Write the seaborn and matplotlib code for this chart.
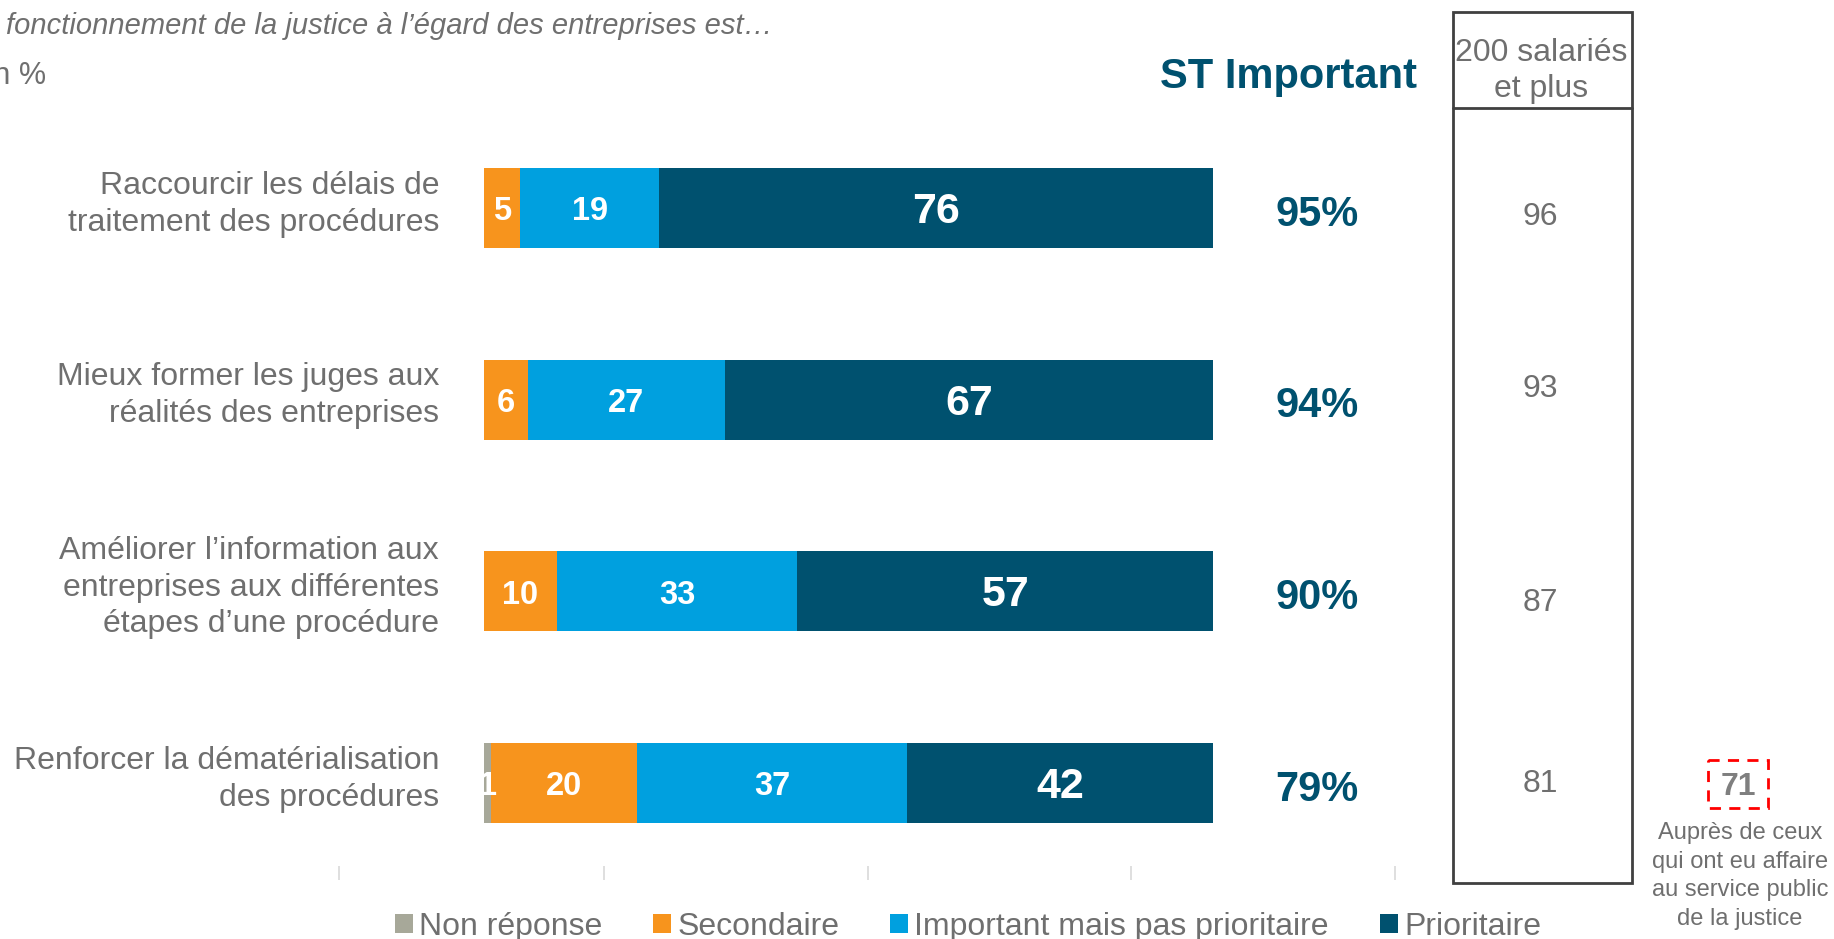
import numpy as np
import pandas as pd
import matplotlib
matplotlib.use("Agg")
import matplotlib.pyplot as plt
import seaborn as sns
from matplotlib.transforms import Affine2D
from matplotlib.patches import Rectangle, Patch
from matplotlib.lines import Line2D

# ---------------- data ----------------
categories = [
    "Raccourcir les délais de\ntraitement des procédures",
    "Mieux former les juges aux\nréalités des entreprises",
    "Améliorer l’information aux\nentreprises aux différentes\nétapes d’une procédure",
    "Renforcer la dématérialisation\ndes procédures",
]
non_reponse = [0, 0, 0, 1]
secondaire = [5, 6, 10, 20]
important = [19, 27, 33, 37]
prioritaire = [76, 67, 57, 42]
st_important = [95, 94, 90, 79]
salaries_200 = [96, 93, 87, 81]
series_names = ["Non réponse", "Secondaire", "Important mais pas prioritaire", "Prioritaire"]
annot_value = 71
annot_text = "Auprès de ceux\nqui ont eu affaire\nau service public\nde la justice"
subtitle = "fonctionnement de la justice à l’égard des entreprises est…"

colors = ["#a7a899", "#f7941d", "#00a0df", "#00516f"]
gray = "#6f6f6f"
teal = "#00516f"

sns.set_theme(style="white")
plt.rcParams["font.family"] = ["Liberation Sans", "DejaVu Sans"]

W, H = 1834, 939
fig = plt.figure(figsize=(W / 100, H / 100), dpi=100)
px = Affine2D().scale(1 / W, -1 / H).translate(0, 1) + fig.transFigure

# axes occupies full width, from top down to y=880 px
ax_bottom_px = 880
ax = fig.add_axes([0, 1 - ax_bottom_px / H, 1, ax_bottom_px / H])

x0_px, x100_px = 484, 1213
k = (x100_px - x0_px) / 100.0
row0_px, row_step = 208, 191.7
bar_w = 80 / row_step

def dx(p):
    return (p - x0_px) / k

df = pd.DataFrame({
    "cat": categories,
    "nr": non_reponse,
    "sec": secondaire,
    "imp": important,
    "prio": prioritaire,
})
df["c1"] = df["nr"]
df["c2"] = df["c1"] + df["sec"]
df["c3"] = df["c2"] + df["imp"]
df["c4"] = df["c3"] + df["prio"]

for col, c in zip(["c4", "c3", "c2", "c1"], colors[::-1]):
    sns.barplot(data=df, x=col, y="cat", color=c, orient="h", width=bar_w,
                saturation=1, errorbar=None, linewidth=0, ax=ax)

ax.set_xlim(dx(0), dx(W))
ax.set_ylim((ax_bottom_px - row0_px) / row_step, -row0_px / row_step)
ax.set_yticks([])
ax.set_xlabel("")
ax.set_ylabel("")
for s in ax.spines.values():
    s.set_visible(False)
ax.set_xticks([dx(339), dx(604), dx(868), dx(1131), dx(1395)])
ax.tick_params(axis="x", bottom=True, direction="in", length=10, width=1.2,
               color="#d9d9d9", labelbottom=False)

# segment labels
segs = [non_reponse, secondaire, important, prioritaire]
for i in range(len(categories)):
    left = 0
    for j, vals in enumerate(segs):
        v = vals[i]
        if v > 0:
            ax.text(left + v / 2, i + 0.02, f"{v}", ha="center", va="center",
                    color="white", fontweight="bold",
                    fontsize=31 if j == 3 else 23.5)
        left += v
    # category label
    ax.text(dx(439), i - 0.02, categories[i], ha="right", va="center",
            fontsize=23, color=gray, linespacing=1.3)
    # ST important
    ax.text(dx(1317), i + 0.035, f"{st_important[i]}%", ha="center",
            va="center", fontsize=30, fontweight="bold", color=teal)

# header
fig.text(1288, 77, "ST Important", transform=px, ha="center", va="center",
         fontsize=30, fontweight="bold", color=teal)

# box for 200 salariés et plus
fig.patches.append(Rectangle((1453, 12), 179, 871, transform=px, fill=False,
                             edgecolor="#404040", linewidth=2))
fig.lines.append(Line2D([1453, 1632], [108, 108], transform=px,
                        color="#404040", linewidth=2))
fig.text(1541, 71, "200 salariés\net plus", transform=px, ha="center",
         va="center", fontsize=23, color=gray, linespacing=1.25)
for v, yp in zip(salaries_200, [217, 389, 603, 784]):
    fig.text(1540, yp, f"{v}", transform=px, ha="center", va="center",
             fontsize=23, color=gray)

# red dashed annotation
fig.patches.append(Rectangle((1708, 760), 60, 48, transform=px, fill=False,
                             edgecolor="#ff0000", linewidth=2,
                             linestyle=(0, (4, 3))))
fig.text(1738, 787, f"{annot_value}", transform=px, ha="center", va="center",
         fontsize=23, fontweight="bold", color="#7f7f7f")
fig.text(1740, 876, annot_text, transform=px, ha="center", va="center",
         fontsize=17, color=gray, linespacing=1.38)

# subtitle & unit
fig.text(6, 26, subtitle, transform=px, ha="left", va="center",
         fontsize=21, style="italic", color=gray)
fig.text(46, 76, "En %", transform=px, ha="right", va="center",
         fontsize=22, color=gray)

# legend
handles = [Patch(facecolor=c, edgecolor="none") for c in colors]
leg = fig.legend(handles, series_names, loc="center",
                 bbox_to_anchor=(968 / W, 1 - 927 / H), ncol=4, frameon=False,
                 fontsize=23, handlelength=0.55, handleheight=0.55,
                 handletextpad=0.2, columnspacing=1.6, borderpad=0)
for t in leg.get_texts():
    t.set_color(gray)

fig.savefig("out.png", dpi=100)
